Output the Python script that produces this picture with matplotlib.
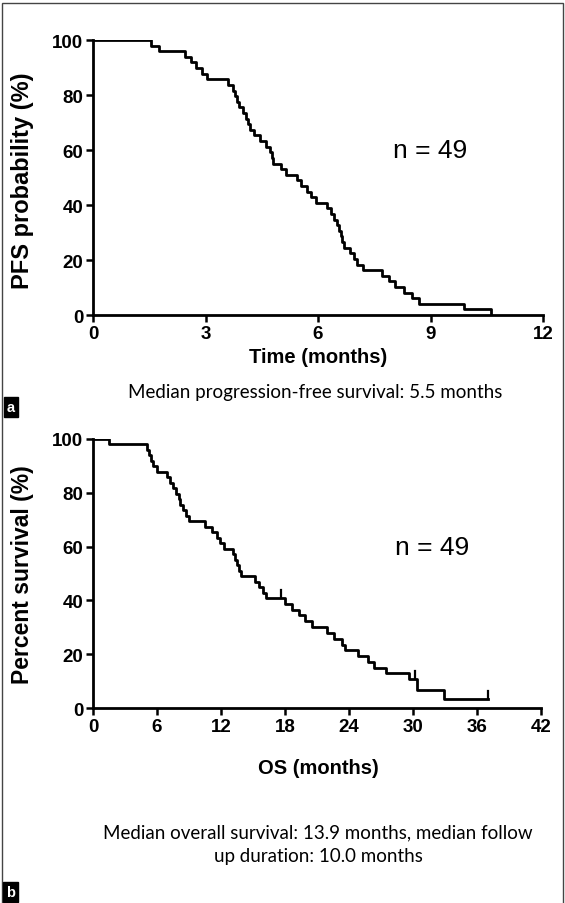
import numpy as np
import matplotlib
matplotlib.use("Agg")
import matplotlib.pyplot as plt
from matplotlib.patches import Rectangle

# PFS: event times (months), one patient per step, n = 49
pfs_events = [1.55, 1.75, 2.45, 2.6, 2.75, 2.9, 3.05, 3.6, 3.72, 3.78,
              3.84, 3.9, 4.0, 4.08, 4.12, 4.18, 4.3, 4.45, 4.6, 4.72,
              4.76, 4.8, 5.0, 5.15, 5.45, 5.55, 5.7, 5.8, 5.95, 6.25,
              6.35, 6.42, 6.5, 6.55, 6.6, 6.65, 6.7, 6.85, 6.95, 7.05,
              7.2, 7.7, 7.9, 8.05, 8.3, 8.5, 8.7, 9.9, 10.6]
n_pfs = 49

# OS: step times (months) and survival (%)
os_t = [0, 1.5, 5.1, 5.25, 5.45, 5.6, 6.0, 6.9, 7.2, 7.5, 7.8, 8.1, 8.2, 8.4,
        8.7, 9.0, 10.5, 11.2, 11.6, 11.9, 12.3, 13.1, 13.3, 13.5, 13.7, 13.9,
        15.2, 15.6, 15.9, 16.2, 18.0, 18.7, 19.3, 19.9, 20.5, 21.9, 22.6,
        23.3, 23.6, 24.8, 25.8, 26.3, 27.5, 29.6, 30.4, 32.9]
os_s = [100, 98.0, 95.9, 93.9, 91.8, 89.8, 87.8, 85.7, 83.7, 81.6, 79.6, 77.6,
        75.5, 73.5, 71.4, 69.4, 67.3, 65.3, 63.3, 61.2, 59.2, 57.1, 55.1, 53.1,
        51.0, 49.0, 46.9, 44.9, 42.9, 40.8, 38.7, 36.5, 34.4, 32.2, 30.1, 27.9,
        25.8, 23.6, 21.5, 19.3, 17.2, 15.0, 12.9, 10.7, 6.8, 3.4]
os_end = 37.0
os_cens_t = [17.6, 30.2, 37.0]
os_cens_s = [40.8, 10.7, 3.4]

pfs_xticks = [0, 3, 6, 9, 12]
os_xticks = [0, 6, 12, 18, 24, 30, 36, 42]
yticks = [0, 20, 40, 60, 80, 100]

plt.rcParams["font.family"] = ["Liberation Sans", "DejaVu Sans"]

fig = plt.figure(figsize=(5.65, 9.04), dpi=100)


def style_axes(ax, xmax, xticks):
    ax.set_xlim(0, xmax)
    ax.set_ylim(0, 100)
    ax.set_xticks(xticks, labels=[str(v) for v in xticks], fontsize=13.5, fontweight="bold")
    ax.set_yticks(yticks, labels=[str(v) for v in yticks], fontsize=13.5, fontweight="bold")
    for sp in ["top", "right"]:
        ax.spines[sp].set_visible(False)
    for sp in ["left", "bottom"]:
        ax.spines[sp].set_linewidth(2.0)
    ax.tick_params(width=1.8, length=5, direction="out", pad=2)


# ---- panel a
ax1 = fig.add_axes([0.1646, 0.6504, 0.7965, 0.3042])
t = [0] + pfs_events
s = [100 * (1 - k / n_pfs) for k in range(len(t))]
ax1.step(t, s, where="post", color="black", lw=2.0)
style_axes(ax1, 12, pfs_xticks)
ax1.text(9.0, 60, "n = 49", fontsize=19, ha="center", va="center")

fig.text(0.039, 0.80, "PFS probability (%)", rotation=90, ha="center", va="center",
         size=17, weight="bold")
fig.text(0.563, 0.604, "Time (months)", ha="center", va="center", size=14.5, weight="bold")
fig.text(0.558, 0.566, "Median progression-free survival: 5.5 months", ha="center", va="center",
         size=13.5, family="Lato")

# ---- panel b
ax2 = fig.add_axes([0.1646, 0.2157, 0.793, 0.2976])
ax2.step(os_t + [os_end], os_s + [os_s[-1]], where="post", color="black", lw=2.0)
for ct, cs in zip(os_cens_t, os_cens_s):
    ax2.plot([ct, ct], [cs, cs + 3], color="black", lw=1.6)
style_axes(ax2, 42, os_xticks)
ax2.text(31.8, 60, "n = 49", fontsize=19, ha="center", va="center")

fig.text(0.039, 0.364, "Percent survival (%)", rotation=90, ha="center", va="center",
         size=16.5, weight="bold")
fig.text(0.563, 0.150, "OS (months)", ha="center", va="center", size=14.5, weight="bold")
fig.text(0.563, 0.0785, "Median overall survival: 13.9 months, median follow", ha="center",
         va="center", size=13.5, family="Lato")
fig.text(0.563, 0.052, "up duration: 10.0 months", ha="center", va="center", size=13.5,
         family="Lato")

# panel letters in black boxes
for y, letter in [(0.549, "a"), (0.012, "b")]:
    fig.text(0.019, y, letter, color="white", ha="center", va="center", size=10.5, weight="bold",
             bbox=dict(boxstyle="square,pad=0.2", fc="black", ec="black"))

# outer frame
fig.patches.append(Rectangle((0.004, -0.01), 0.992, 1.006, transform=fig.transFigure,
                             fill=False, ec="#444444", lw=1.0))

fig.savefig("out.png", dpi=100)
